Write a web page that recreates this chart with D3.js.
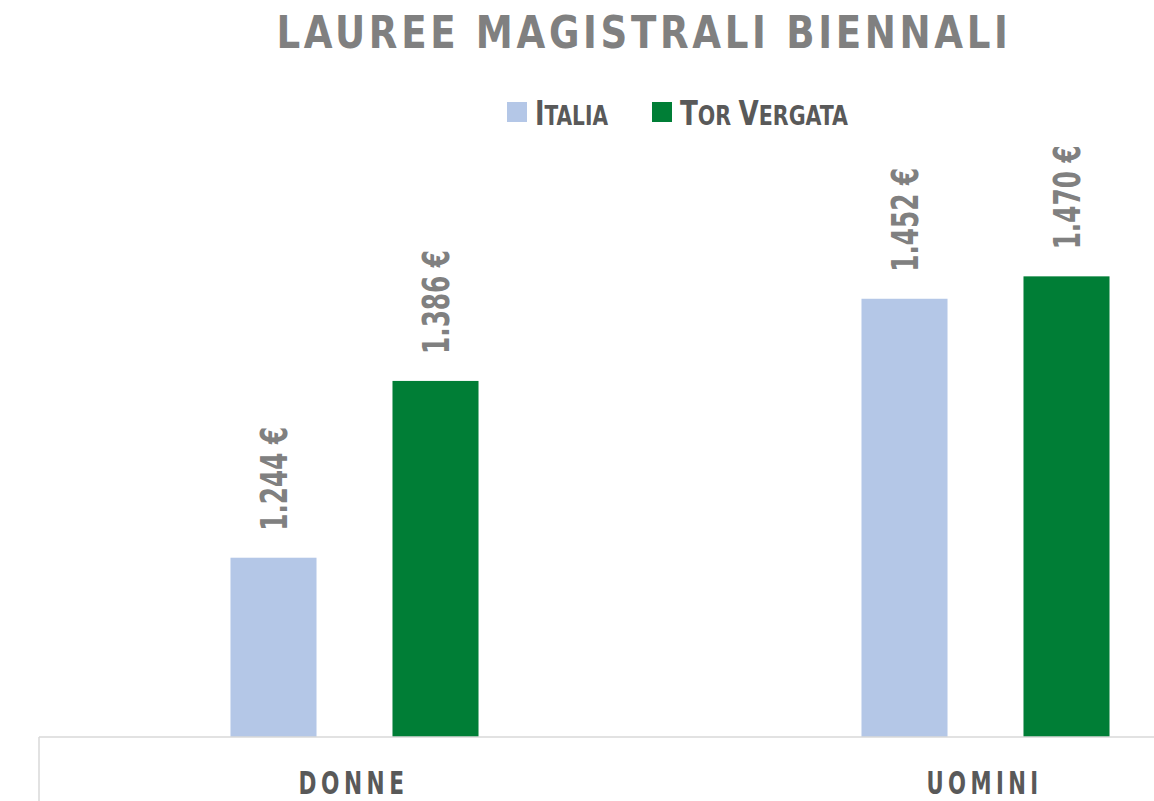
<!DOCTYPE html>
<html>
<head>
<meta charset="utf-8">
<script src="https://cdn.jsdelivr.net/npm/d3@7.9.0/dist/d3.min.js"></script>
<style>
  body { margin: 0; background: #fff; }
  svg { display: block; }
</style>
</head>
<body>
<div id="chart"></div>
<script>
const categories = ["DONNE", "UOMINI"];
const series = ["Italia", "Tor Vergata"];
const italia = [1244, 1452];
const torVergata = [1386, 1470];
const legendLabels = [["I", "TALIA"], ["T", "OR ", "V", "ERGATA"]];

const colors = { "Italia": "#b4c7e7", "Tor Vergata": "#007e36" };
const font = "'DejaVu Sans Condensed', 'DejaVu Sans', sans-serif";

const width = 1154;
const height = 801;
const baseY = 737;

const svg = d3.select('#chart')
    .append('svg')
    .attr('width', width)
    .attr('height', height);

// title
svg.append("text")
    .attr("x", 644)
    .attr("y", 48)
    .attr("text-anchor", "middle")
    .attr("font-family", font)
    .attr("font-weight", "bold")
    .attr("font-size", 45)
    .attr("letter-spacing", 4)
    .attr("textLength", 735)
    .attr("lengthAdjust", "spacingAndGlyphs")
    .attr("fill", "#808080")
    .text("LAUREE MAGISTRALI BIENNALI");

// legend (small caps made with two sizes, squeezed to the condensed look)
const legendX = [507, 652];
const legendLen = [73, 168];
series.forEach((s, i) => {
    const g = svg.append("g").attr("transform", `translate(${legendX[i]},0)`);
    g.append("rect")
        .attr("x", 0).attr("y", 102)
        .attr("width", 20).attr("height", 20)
        .attr("fill", colors[s]);
    const tg = g.append("g");
    const t = tg.append("text")
        .attr("x", 0)
        .attr("y", 0)
        .attr("font-family", font)
        .attr("font-weight", "bold")
        .attr("fill", "#595959");
    legendLabels[i].forEach((part, j) => {
        t.append("tspan")
            .attr("font-size", j % 2 === 0 ? 33 : 26)
            .text(part);
    });
    const natural = t.node().getComputedTextLength();
    tg.attr("transform", `translate(28,125) scale(${legendLen[i] / natural},1)`);
});

// scales
const x0 = d3.scaleBand()
    .domain(categories)
    .range([39, 1301])
    .paddingInner(0)
    .paddingOuter(0);

const x1 = d3.scaleBand()
    .domain(series)
    .range([x0.bandwidth() / 2 - 162, x0.bandwidth() / 2 + 162])
    .paddingInner(0.469)
    .paddingOuter(0.2345);

const y = d3.scaleLinear()
    .domain([1100, 1500])
    .range([baseY, baseY - 400 * 1.245]);

const rows = categories.map((c, i) => ({
    category: c,
    values: [
        { key: "Italia", value: italia[i] },
        { key: "Tor Vergata", value: torVergata[i] }
    ]
}));

const groups = svg.selectAll("g.group")
    .data(rows)
    .join("g")
    .attr("class", "group")
    .attr("transform", d => `translate(${x0(d.category)},0)`);

groups.selectAll("rect")
    .data(d => d.values)
    .join("rect")
    .attr("x", d => x1(d.key))
    .attr("y", d => y(d.value))
    .attr("width", x1.bandwidth())
    .attr("height", d => baseY - y(d.value))
    .attr("fill", d => colors[d.key]);

const fmt = v => d3.format(",")(v).replace(",", ".") + " €";

groups.selectAll("text.value")
    .data(d => d.values)
    .join("text")
    .attr("class", "value")
    .attr("transform", d => `translate(${x1(d.key) + x1.bandwidth() / 2},${y(d.value) - 27}) rotate(-90)`)
    .attr("dy", "0.36em")
    .attr("font-family", font)
    .attr("font-weight", "bold")
    .attr("font-size", 38)
    .attr("textLength", 104)
    .attr("lengthAdjust", "spacingAndGlyphs")
    .attr("fill", "#808080")
    .text(d => fmt(d.value));

// x axis
svg.append("line")
    .attr("x1", 39).attr("x2", width)
    .attr("y1", baseY).attr("y2", baseY)
    .attr("stroke", "#d9d9d9")
    .attr("stroke-width", 1.5);
svg.append("line")
    .attr("x1", 39).attr("x2", 39)
    .attr("y1", baseY).attr("y2", height)
    .attr("stroke", "#d9d9d9")
    .attr("stroke-width", 1.5);

const catLen = [110, 116];
svg.selectAll("text.cat")
    .data(categories)
    .join("text")
    .attr("class", "cat")
    .attr("x", d => x0(d) + x0.bandwidth() / 2 - 1)
    .attr("y", 794)
    .attr("text-anchor", "middle")
    .attr("font-family", font)
    .attr("font-weight", "bold")
    .attr("font-size", 32)
    .attr("letter-spacing", 6)
    .attr("textLength", (d, i) => catLen[i])
    .attr("lengthAdjust", "spacingAndGlyphs")
    .attr("fill", "#595959")
    .text(d => d);
</script>
</body>
</html>
